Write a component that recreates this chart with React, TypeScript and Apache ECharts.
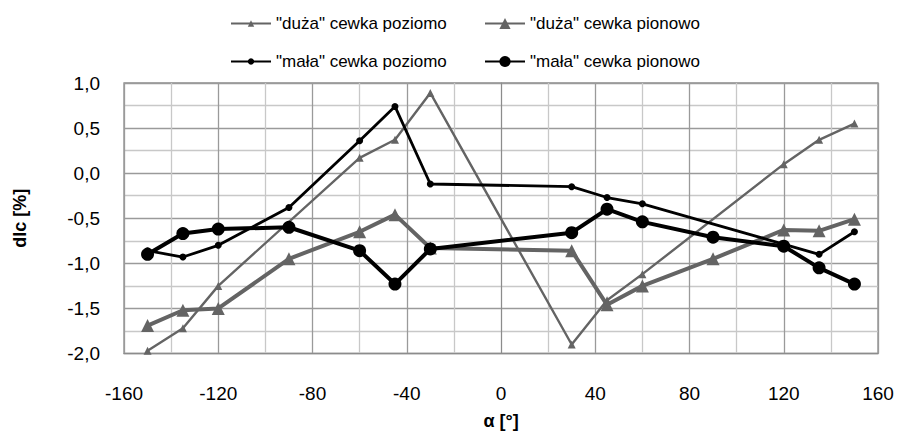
import React, { useEffect, useRef } from "react";
import * as echarts from "echarts";

const dudaPoziomX = [-150, -135, -120, -60, -45, -30, 30, 45, 60, 120, 135, 150];
const dudaPoziomY = [-1.97, -1.72, -1.25, 0.17, 0.37, 0.89, -1.9, -1.41, -1.12, 0.1, 0.37, 0.55];

const dudaPionX = [-150, -135, -120, -90, -60, -45, -30, 30, 45, 60, 90, 120, 135, 150];
const dudaPionY = [-1.69, -1.52, -1.5, -0.95, -0.65, -0.46, -0.83, -0.86, -1.46, -1.25, -0.95, -0.63, -0.64, -0.51];

const malaPoziomX = [-150, -135, -120, -90, -60, -45, -30, 30, 45, 60, 135, 150];
const malaPoziomY = [-0.86, -0.93, -0.8, -0.38, 0.36, 0.74, -0.12, -0.15, -0.27, -0.34, -0.9, -0.65];

const malaPionX = [-150, -135, -120, -90, -60, -45, -30, 30, 45, 60, 90, 120, 135, 150];
const malaPionY = [-0.9, -0.67, -0.62, -0.6, -0.86, -1.23, -0.84, -0.66, -0.4, -0.54, -0.71, -0.81, -1.05, -1.23];

const seriesNames = [
  '"duża" cewka poziomo',
  '"duża" cewka pionowo',
  '"mała" cewka poziomo',
  '"mała" cewka pionowo',
];

const zip = (xs: number[], ys: number[]) => xs.map((x, i) => [x, ys[i]]);

export default function App() {
  const ref = useRef<HTMLDivElement>(null);
  useEffect(() => {
    if (!ref.current) return;
    const chart = echarts.init(ref.current, null, { renderer: "svg" });
    const gray = "#646464";
    const legendFont = {
      fontFamily: "'Liberation Sans', sans-serif",
      fontSize: 17,
      color: "#000",
    };
    const legendPos = [
      { left: 230, top: 15 },
      { left: 484, top: 15 },
      { left: 230, top: 53 },
      { left: 484, top: 53 },
    ];
    chart.setOption({
      animation: false,
      grid: { left: 124, right: 21, top: 83, bottom: 81.5, containLabel: false },
      legend: seriesNames.map((n, i) => ({
        data: [n],
        left: legendPos[i].left,
        top: legendPos[i].top,
        itemWidth: 40,
        itemHeight: i % 2 === 0 ? 8 : 14,
        itemGap: 4,
        textStyle: legendFont,
        padding: 0,
      })),
      xAxis: {
        type: "value",
        min: -160,
        max: 160,
        interval: 40,
        axisLine: { show: true, onZero: false, lineStyle: { color: "#8c8c8c", width: 1 } },
        axisTick: { show: false },
        axisLabel: {
          margin: 30,
          fontFamily: "'Liberation Sans', sans-serif",
          fontSize: 19,
          color: "#000",
        },
        splitLine: { show: true, lineStyle: { color: "#9a9a9a", width: 1.3 } },
        minorTick: { show: false, splitNumber: 2 },
        minorSplitLine: { show: true, lineStyle: { color: "#c8c8c8", width: 1.3 } },
        name: "α [°]",
        nameLocation: "middle",
        nameGap: 58,
        nameTextStyle: {
          fontFamily: "'Liberation Sans', sans-serif",
          fontSize: 18,
          fontWeight: "bold",
          color: "#000",
        },
      },
      yAxis: {
        type: "value",
        min: -2,
        max: 1,
        interval: 0.5,
        axisLine: { show: true, lineStyle: { color: "#8c8c8c", width: 1 } },
        axisTick: { show: false },
        axisLabel: {
          margin: 24,
          fontFamily: "'Liberation Sans', sans-serif",
          fontSize: 19,
          color: "#000",
          formatter: (v: number) => v.toFixed(1).replace(".", ","),
        },
        splitLine: { show: true, lineStyle: { color: "#9a9a9a", width: 1.3 } },
        minorTick: { show: false, splitNumber: 2 },
        minorSplitLine: { show: true, lineStyle: { color: "#c8c8c8", width: 1.3 } },
        name: "dIc [%]",
        nameLocation: "middle",
        nameGap: 95,
        nameTextStyle: {
          fontFamily: "'Liberation Sans', sans-serif",
          fontSize: 18,
          fontWeight: "bold",
          color: "#000",
        },
      },
      graphic: [
        {
          type: "rect",
          shape: { x: 124, y: 83, width: 754, height: 270.5 },
          style: { fill: "none", stroke: "#8c8c8c", lineWidth: 1.3 },
          silent: true,
        },
      ],
      series: [
        {
          name: seriesNames[0],
          type: "line",
          data: zip(dudaPoziomX, dudaPoziomY),
          symbol: "triangle",
          symbolSize: 8,
          lineStyle: { color: gray, width: 2.4 },
          itemStyle: { color: gray },
          z: 2,
        },
        {
          name: seriesNames[1],
          type: "line",
          data: zip(dudaPionX, dudaPionY),
          symbol: "triangle",
          symbolSize: 13,
          lineStyle: { color: gray, width: 4 },
          itemStyle: { color: gray },
          z: 3,
        },
        {
          name: seriesNames[2],
          type: "line",
          data: zip(malaPoziomX, malaPoziomY),
          symbol: "circle",
          symbolSize: 7,
          lineStyle: { color: "#000", width: 2.8 },
          itemStyle: { color: "#000" },
          z: 4,
        },
        {
          name: seriesNames[3],
          type: "line",
          data: zip(malaPionX, malaPionY),
          symbol: "circle",
          symbolSize: 13,
          lineStyle: { color: "#000", width: 4 },
          itemStyle: { color: "#000" },
          z: 5,
        },
      ],
    });
    return () => chart.dispose();
  }, []);
  return <div ref={ref} style={{ width: 899, height: 435, position: "absolute", left: 0, top: 0 }} />;
}
